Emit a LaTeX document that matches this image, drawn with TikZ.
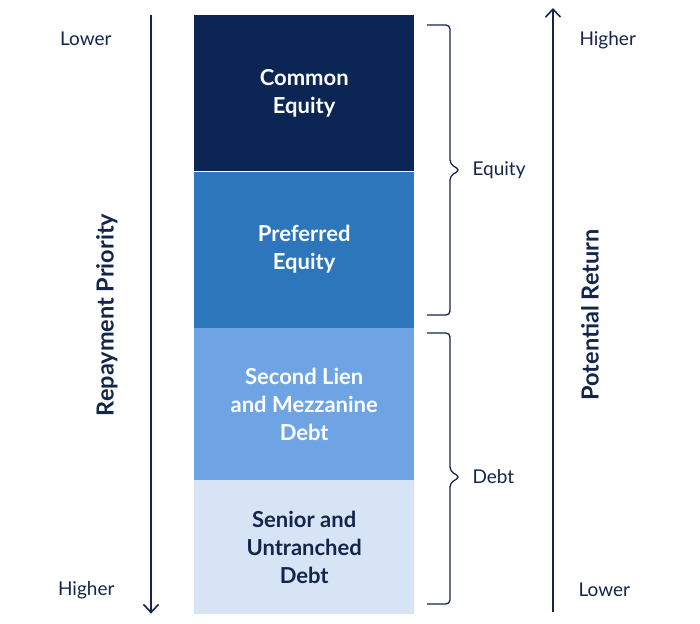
\documentclass[tikz,border=0pt]{standalone}
\usepackage{fontspec}
\setmainfont{Lato}
\usetikzlibrary{arrows.meta, positioning, calc}
\definecolor{capnavy}{RGB}{11,37,84}
\definecolor{capblue}{RGB}{46,118,188}
\definecolor{caplight}{RGB}{110,164,228}
\definecolor{cappale}{RGB}{214,228,245}
\definecolor{captext}{RGB}{20,37,75}

\begin{document}
\begin{tikzpicture}[
    x=1pt, y=-1pt,
    layer/.style={rectangle, minimum width=220pt, inner sep=0pt, align=center, font=\fontsize{22}{28}\selectfont\bfseries, text=white},
    axisarrow/.style={draw=captext, line width=1.6pt, -{Straight Barb[length=8pt, width=15pt, line width=1.6pt]}},
    brace/.style={draw=captext, line width=1.3pt, rounded corners=4pt},
    lbl/.style={font=\fontsize{19}{22}\selectfont, text=captext},
    title/.style={font=\fontsize{23.5}{26}\selectfont\bfseries, text=captext, rotate=90}
]

\useasboundingbox (0,0) rectangle (700,623);

% === Capital stack ===
\node[layer, fill=capnavy, minimum height=156pt, anchor=north west] (common) at (194,15) {Common\\Equity};
\node[layer, fill=capblue, minimum height=156pt, below=0pt of common] (preferred) {Preferred\\Equity};
\node[layer, fill=caplight, minimum height=152pt, below=0pt of preferred] (mezz) {Second Lien\\and Mezzanine\\Debt};
\node[layer, fill=cappale, text=captext, minimum height=134pt, below=0pt of mezz] (senior) {Senior and\\Untranched\\Debt};

% === Repayment priority (left) ===
\coordinate (rp_top) at ($(common.north west)+(-43,0)$);
\coordinate (rp_bot) at ($(senior.south west)+(-43,-1)$);
\draw[axisarrow] (rp_top) -- (rp_bot);
\node[title] (rp_title) at (107,315) {Repayment Priority};
\node[lbl, anchor=east] (rp_low) at (115,39) {Lower};
\node[lbl, anchor=east] (rp_high) at (118,590) {Higher};

% === Potential return (right) ===
\coordinate (pr_bot) at (553,612);
\coordinate (pr_top) at (553,8);
\draw[axisarrow] (pr_bot) -- (pr_top);
\node[title] (pr_title) at (590,315) {Potential Return};
\node[lbl, anchor=west] (pr_high) at (576,40) {Higher};
\node[lbl, anchor=west] (pr_low) at (575,590) {Lower};

% === Braces ===
\draw[brace] (427,25) -- (450,25) -- (450,164) -- (460,170) -- (450,176) -- (450,315) -- (427,315);
\node[lbl, anchor=west] (equity) at (469,170) {Equity};
\draw[brace] (427,333) -- (450,333) -- (450,471) -- (460,477) -- (450,483) -- (450,604) -- (427,604);
\node[lbl, anchor=west] (debt) at (469,477) {Debt};

\end{tikzpicture}
\end{document}
